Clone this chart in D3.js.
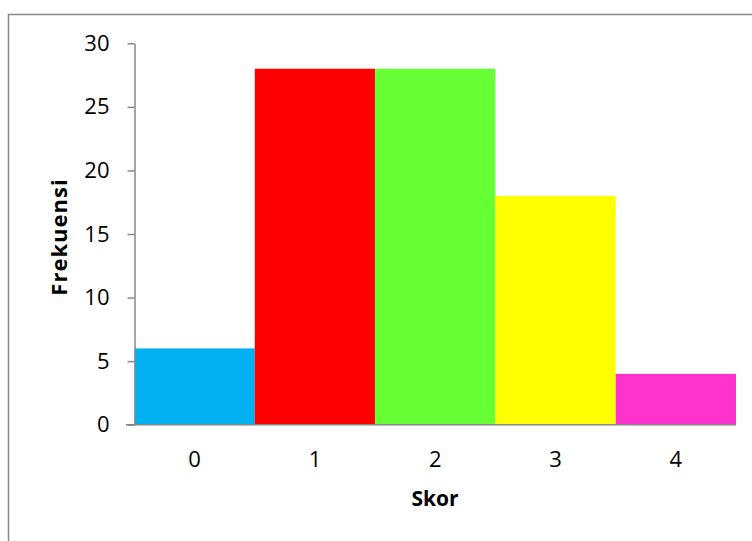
<!DOCTYPE html>
<html>
<head>
<meta charset="utf-8">
<script src="https://cdn.jsdelivr.net/npm/d3@7"></script>
<style>
  body { margin: 0; background: #fff; }
  svg { display: block; }
  text { font-family: "Open Sans", "Noto Sans", sans-serif; fill: #000; }
</style>
</head>
<body>
<svg id="chart" width="752" height="541"></svg>
<script>
const skor = ["0", "1", "2", "3", "4"];
const frekuensi = [6, 28, 28, 18, 4];
const barColors = ["#00B0F0", "#FF0000", "#66FF33", "#FFFF00", "#FF33CC"];
const yTicks = [0, 5, 10, 15, 20, 25, 30];

const svg = d3.select("#chart");

// chart area border (runs off the right/bottom edge like the original)
svg.append("rect")
    .attr("x", 8.5).attr("y", 14.5)
    .attr("width", 760).attr("height", 540)
    .attr("fill", "none")
    .attr("stroke", "#888")
    .attr("stroke-width", 1.5);

const data = skor.map((s, i) => ({skor: s, value: frekuensi[i], color: barColors[i]}));

const x = d3.scaleBand()
    .domain(skor)
    .range([134.5, 736])
    .padding(0);

const y = d3.scaleLinear()
    .domain([0, 30])
    .range([424.7, 43.3]);

svg.selectAll("rect.bar")
    .data(data)
    .enter()
    .append("rect")
    .attr("class", "bar")
    .attr("x", d => x(d.skor))
    .attr("y", d => y(d.value))
    .attr("width", x.bandwidth())
    .attr("height", d => y(0) - y(d.value))
    .attr("fill", d => d.color);

// y axis
const yAxis = d3.axisLeft(y).tickValues(yTicks).tickSize(7).tickSizeOuter(0);
const gy = svg.append("g").attr("transform", "translate(134.5,0)").call(yAxis);
gy.attr("font-family", null).attr("font-size", null);
gy.select(".domain").attr("stroke", "#888").attr("stroke-width", 1.5);
gy.selectAll(".tick line").attr("stroke", "#888").attr("stroke-width", 1.5);
gy.selectAll(".tick text")
    .attr("x", -25)
    .attr("fill", "#000")
    .style("font-size", "22px");

// x axis (no ticks between categories)
const xAxis = d3.axisBottom(x).tickSize(0).tickSizeOuter(0);
const gx = svg.append("g").attr("transform", "translate(0,424.7)").call(xAxis);
gx.attr("font-family", null).attr("font-size", null);
gx.select(".domain").attr("stroke", "#888").attr("stroke-width", 1.5)
    .attr("d", "M126,0H736");
gx.selectAll(".tick text")
    .attr("y", 27)
    .attr("dy", "0.71em")
    .attr("fill", "#000")
    .style("font-size", "22px");

// axis titles
svg.append("text")
    .attr("x", 435).attr("y", 506)
    .attr("text-anchor", "middle")
    .style("font-size", "21px")
    .style("font-weight", "bold")
    .text("Skor");

svg.append("text")
    .attr("transform", "translate(67,237) rotate(-90)")
    .attr("text-anchor", "middle")
    .style("font-size", "22px")
    .style("font-weight", "bold")
    .style("letter-spacing", "1px")
    .text("Frekuensi");
</script>
</body>
</html>
